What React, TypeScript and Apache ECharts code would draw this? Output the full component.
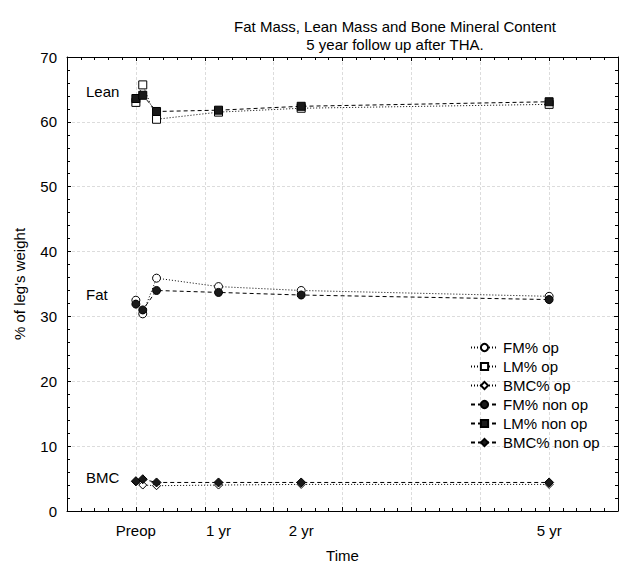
import React, { useEffect, useRef } from "react";
import * as echarts from "echarts";

const months = [0, 1, 3, 12, 24, 60];
const fmOp = [32.5, 30.4, 35.9, 34.6, 34.0, 33.1];
const lmOp = [63.0, 65.7, 60.4, 61.5, 62.1, 62.7];
const bmcOp = [4.5, 4.0, 3.9, 4.0, 4.1, 4.1];
const fmNon = [31.9, 31.0, 34.0, 33.7, 33.3, 32.6];
const lmNon = [63.6, 64.1, 61.6, 61.8, 62.4, 63.1];
const bmcNon = [4.6, 4.9, 4.4, 4.4, 4.4, 4.4];
const xLabelValues = [0, 12, 24, 60];
const xLabelTexts = ["Preop", "1 yr", "2 yr", "5 yr"];
const seriesNames = ["FM% op", "LM% op", "BMC% op", "FM% non op", "LM% non op", "BMC% non op"];
const groupLabels = ["Lean", "Fat", "BMC"];

const FONT = "'Liberation Sans', Arial, sans-serif";

export default function App() {
  const ref = useRef<HTMLDivElement>(null);
  useEffect(() => {
    if (!ref.current) return;
    const chart = echarts.init(ref.current, null, { renderer: "svg" });
    const pair = (vals: number[]) => months.map((m, i) => [m, vals[i]]);
    const mk = (name: string, vals: number[], symbol: string, size: number, filled: boolean) => ({
      name,
      type: "line",
      data: pair(vals),
      symbol,
      symbolSize: size,
      showSymbol: true,
      lineStyle: { color: "#000", width: 1, type: filled ? [4, 3] : [1, 2] },
      itemStyle: {
        color: filled ? "#1a1a1a" : "#fff",
        borderColor: "#000",
        borderWidth: 1,
        opacity: 1,
      },
      emphasis: { disabled: true },
      z: filled ? 3 : 2,
    });
    const allSeries = [
      mk(seriesNames[0], fmOp, "circle", 8, false),
      mk(seriesNames[1], lmOp, "rect", 8, false),
      mk(seriesNames[2], bmcOp, "diamond", 8, false),
      mk(seriesNames[3], fmNon, "circle", 8, true),
      mk(seriesNames[4], lmNon, "rect", 8, true),
      mk(seriesNames[5], bmcNon, "diamond", 9, true),
    ];
    const axisCommon = {
      axisLine: { show: true, onZero: false, lineStyle: { color: "#000", width: 1 } },
      axisTick: { show: true, inside: true, length: 4, lineStyle: { color: "#000" } },
      minorTick: { show: true, splitNumber: 5, length: 3, lineStyle: { color: "#000" } },
    };
    chart.setOption({
      animation: false,
      backgroundColor: "#fff",
      textStyle: { fontFamily: FONT },
      title: {
        text: "Fat Mass, Lean Mass and Bone Mineral Content\n5 year follow up after THA.",
        left: 390,
        top: 12,
        textAlign: "center",
        textStyle: { fontFamily: FONT, fontSize: 15, fontWeight: "normal", color: "#000", lineHeight: 18 },
      },
      legend: {
        orient: "vertical",
        left: 470,
        top: 340,
        padding: 0,
        itemWidth: 27,
        itemHeight: 9,
        itemGap: 4,
        data: seriesNames,
        textStyle: { fontFamily: FONT, fontSize: 15, color: "#000", lineHeight: 15 },
        selectedMode: false,
      },
      grid: { left: 67, right: 5, top: 57, bottom: 55, containLabel: false, outerBoundsMode: "none" },
      xAxis: [
        {
          type: "value",
          min: -10,
          max: 70,
          interval: 10,
          name: "Time",
          nameLocation: "middle",
          nameGap: 37,
          nameTextStyle: { fontFamily: FONT, fontSize: 15, color: "#000" },
          ...axisCommon,
          axisLabel: {
            show: true,
            customValues: xLabelValues,
            formatter: (v: number) => xLabelTexts[xLabelValues.indexOf(v)] ?? "",
            fontFamily: FONT,
            fontSize: 15,
            color: "#000",
            margin: 12,
          },
          splitLine: { show: true, lineStyle: { color: "#dcdcdc", type: [3, 2], width: 1 } },
        },
        {
          type: "value",
          position: "top",
          min: -10,
          max: 70,
          interval: 10,
          ...axisCommon,
          axisLabel: { show: false },
          splitLine: { show: false },
        },
      ],
      yAxis: [
        {
          type: "value",
          min: 0,
          max: 70,
          interval: 10,
          name: "% of leg's weight",
          nameLocation: "middle",
          nameGap: 40,
          nameTextStyle: { fontFamily: FONT, fontSize: 15, color: "#000" },
          ...axisCommon,
          axisLabel: { show: true, fontFamily: FONT, fontSize: 15, color: "#000", margin: 10 },
          splitLine: { show: true, lineStyle: { color: "#dcdcdc", type: [3, 2], width: 1 } },
        },
        {
          type: "value",
          position: "right",
          min: 0,
          max: 70,
          interval: 10,
          ...axisCommon,
          axisLabel: { show: false },
          splitLine: { show: false },
        },
      ],
      graphic: [
        { type: "text", left: 86, top: 84, style: { text: groupLabels[0], fontFamily: FONT, fontSize: 15, fill: "#000" } },
        { type: "text", left: 86, top: 287, style: { text: groupLabels[1], fontFamily: FONT, fontSize: 15, fill: "#000" } },
        { type: "text", left: 86, top: 470, style: { text: groupLabels[2], fontFamily: FONT, fontSize: 15, fill: "#000" } },
      ],
      series: allSeries,
    });
    return () => chart.dispose();
  }, []);
  return <div ref={ref} style={{ width: 623, height: 566, position: "absolute", left: 0, top: 0 }} />;
}
